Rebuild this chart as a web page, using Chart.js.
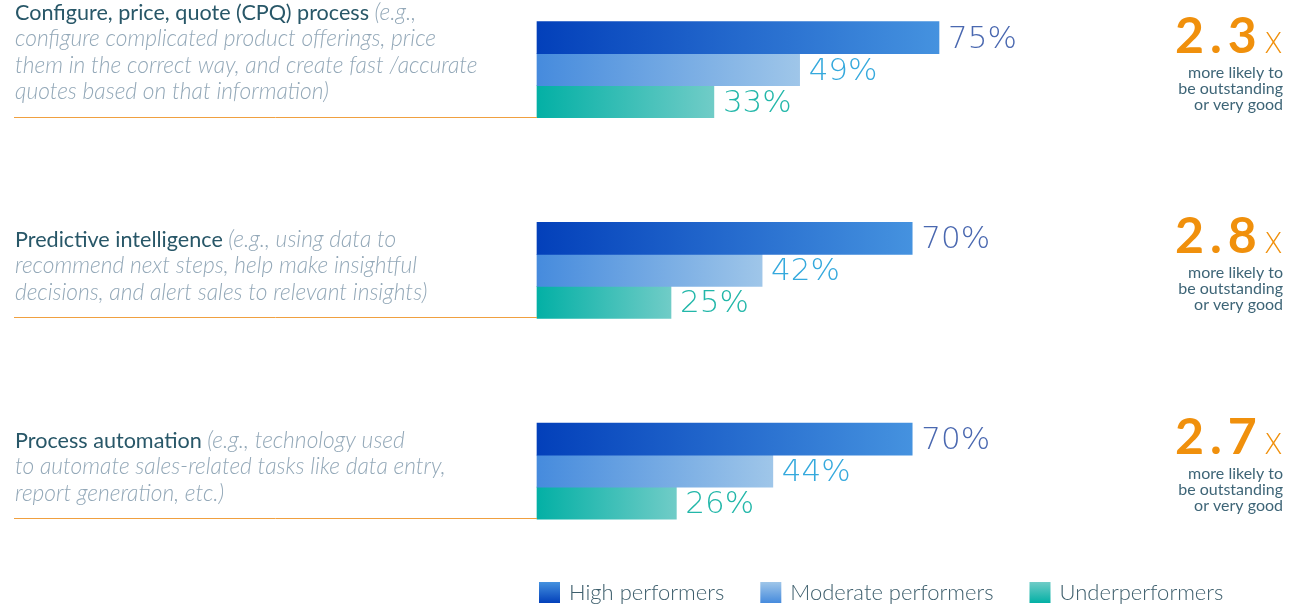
<!DOCTYPE html>
<html lang="en">
<head>
<meta charset="UTF-8">
<title>Sales tech use by performer level</title>
<script src="https://cdn.jsdelivr.net/npm/chart.js@4.4.1/dist/chart.umd.min.js"></script>
<style>
  body { margin: 0; background: #fff; }
  #wrap { width: 1300px; height: 604px; position: relative; }
</style>
</head>
<body>
<div id="wrap"><canvas id="chart"></canvas></div>
<script>
// data
const categories = [
  'Configure, price, quote (CPQ) process',
  'Predictive intelligence',
  'Process automation'
];
// first note line goes on the same line as the title
const categoryNotes = [
  ['(e.g.,', 'configure complicated product offerings, price', 'them in the correct way, and create fast /accurate', 'quotes based on that information)'],
  ['(e.g., using data to', 'recommend next steps, help make insightful', 'decisions, and alert sales to relevant insights)'],
  ['(e.g., technology used', 'to automate sales-related tasks like data entry,', 'report generation, etc.)']
];
const seriesNames = ['High performers', 'Moderate performers', 'Underperformers'];
const highValues = [75, 70, 70];
const moderateValues = [49, 42, 44];
const underValues = [33, 25, 26];
const multipliers = ['2.3', '2.8', '2.7'];
const multiplierNote = ['more likely to', 'be outstanding', 'or very good'];

// styles
const barColors = [['#0340ba', '#4592df'], ['#468bdd', '#9fc6e9'], ['#03b0a5', '#70ccc7']];
const valueColors = ['#4a68b0', '#35a9dd', '#22b7a9'];
const TEXT_FONT = 'Lato, "Open Sans", sans-serif';
const VALUE_FONT = '"DejaVu Sans", sans-serif';

function barGradient(i) {
  return function (ctx) {
    const chart = ctx.chart;
    const xs = chart.scales.x;
    if (!xs || !chart.chartArea || ctx.type !== 'data') return barColors[i][0];
    const x0 = xs.getPixelForValue(0);
    const x1 = xs.getPixelForValue(ctx.raw);
    if (!isFinite(x0) || !isFinite(x1)) return barColors[i][0];
    const g = chart.ctx.createLinearGradient(x0, 0, x1, 0);
    g.addColorStop(0, barColors[i][0]);
    g.addColorStop(1, barColors[i][1]);
    return g;
  };
}

const decorations = {
  id: 'decorations',
  afterDatasetsDraw(chart) {
    const c = chart.ctx;
    const area = chart.chartArea;
    const ys = chart.scales.y;
    c.save();

    categories.forEach((title, i) => {
      const yc = ys.getPixelForValue(i);

      // left description
      const notes = categoryNotes[i];
      const lastBase = yc + 29.5;
      const pitch = 26.5;
      const firstBase = lastBase - pitch * (notes.length - 1);
      const tx = 15;
      c.textBaseline = 'alphabetic';
      c.textAlign = 'left';
      c.font = '400 21.6px ' + TEXT_FONT;
      c.fillStyle = '#285768';
      c.fillText(title, tx, firstBase);
      const tw = c.measureText(title + ' ').width;
      c.font = 'italic 300 22.8px ' + TEXT_FONT;
      c.fillStyle = '#93a8b8';
      c.fillText(notes[0], tx + tw, firstBase);
      for (let k = 1; k < notes.length; k++) {
        c.fillText(notes[k], tx, firstBase + pitch * k);
      }

      // underline
      c.strokeStyle = '#f0a040';
      c.lineWidth = 1;
      c.beginPath();
      const ly = Math.round(yc + 47) + 0.5;
      c.moveTo(14, ly);
      c.lineTo(area.left, ly);
      c.stroke();

      // value labels
      chart.data.datasets.forEach((ds, d) => {
        const bar = chart.getDatasetMeta(d).data[i];
        c.font = '200 31px ' + VALUE_FONT;
        c.fillStyle = valueColors[d];
        c.textBaseline = 'middle';
        c.fillText(ds.data[i] + '%', bar.x + 9, bar.y + 2);
      });

      // multiplier
      const rx = 1283;
      const base = yc - 17;
      c.textBaseline = 'alphabetic';
      c.textAlign = 'right';
      c.font = '200 28px ' + VALUE_FONT;
      c.fillStyle = '#f0900c';
      c.fillText('X', rx, base);
      const xw = c.measureText('X').width;
      c.font = '700 50px ' + TEXT_FONT;
      c.letterSpacing = '6px';
      c.fillText(multipliers[i], rx - xw - 1, base);
      c.letterSpacing = '0px';
      c.font = '400 16px ' + TEXT_FONT;
      c.fillStyle = '#3e6577';
      multiplierNote.forEach((t, k) => c.fillText(t, rx, yc + 8 + 16 * k));
    });

    // legend
    let lx = 539;
    const boxTop = 582, box = 21;
    c.textAlign = 'left';
    c.textBaseline = 'alphabetic';
    c.font = '300 22px ' + TEXT_FONT;
    seriesNames.forEach((name, d) => {
      const g = c.createLinearGradient(0, boxTop, 0, boxTop + box);
      g.addColorStop(0, barColors[d][1]);
      g.addColorStop(1, barColors[d][0]);
      c.fillStyle = g;
      c.fillRect(lx, boxTop, box, box);
      lx += box + 9;
      c.fillStyle = '#3d5e6c';
      c.fillText(name, lx, 600);
      lx += c.measureText(name).width + 36;
    });

    c.restore();
  }
};

const seriesValues = [highValues, moderateValues, underValues];

new Chart(document.getElementById('chart'), {
  type: 'bar',
  data: {
    labels: categories,
    datasets: seriesNames.map((name, d) => ({
      label: name,
      data: seriesValues[d],
      backgroundColor: barGradient(d),
      borderWidth: 0,
      barThickness: 32,
      clip: false
    }))
  },
  options: {
    indexAxis: 'y',
    responsive: true,
    maintainAspectRatio: false,
    animation: false,
    layout: { padding: { left: 537, right: 227, top: 69.6, bottom: 132.9 } },
    scales: {
      x: { min: 0, max: 100, display: false },
      y: { type: 'category', offset: false, display: false }
    },
    plugins: {
      legend: { display: false },
      tooltip: { enabled: false }
    }
  },
  plugins: [decorations]
});
</script>
</body>
</html>
